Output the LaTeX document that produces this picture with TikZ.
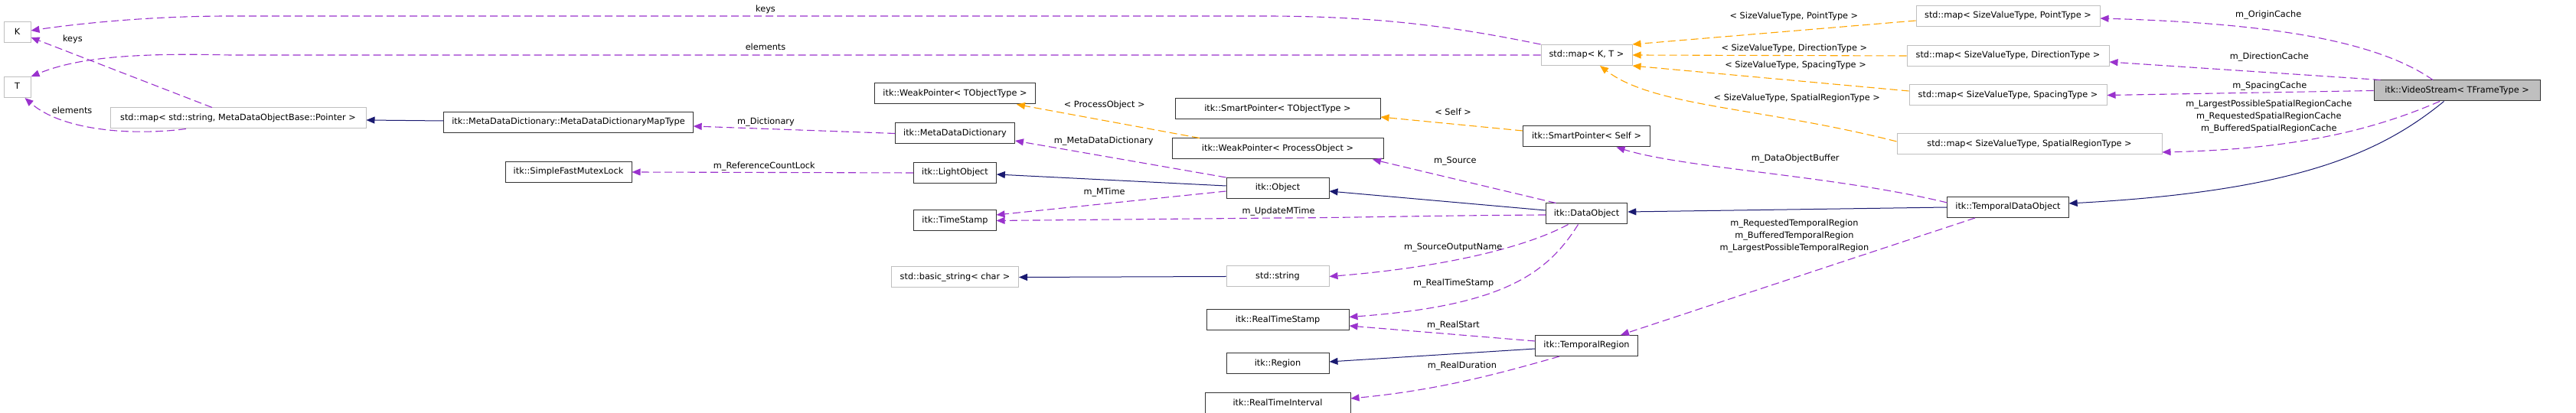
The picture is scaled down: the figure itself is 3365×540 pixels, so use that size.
\documentclass[tikz,border=0pt]{standalone}
\usepackage{fontspec}
\setmainfont{DejaVu Sans}
\usepackage{tikz}
\usetikzlibrary{arrows.meta,positioning}

\definecolor{dxpurple}{HTML}{9A32CD}
\definecolor{dxblue}{HTML}{191970}
\definecolor{dxorange}{HTML}{FFA500}
\definecolor{dxgrey}{HTML}{BFBFBF}
\newcommand{\dxfont}{\fontsize{11.3}{13}\selectfont}

\begin{document}
\begin{tikzpicture}[
  x=1pt, y=1pt,
  >={Triangle[length=11pt,width=9pt]},
  cls/.style={rectangle,draw=black!80,line width=1pt,fill=white,
    minimum height=27pt,inner xsep=10.5pt,inner ysep=0pt,
    text height=8.5pt,text depth=2.6pt,font=\dxfont},
  ext/.style={cls,draw=dxgrey},
  root/.style={cls,fill=dxgrey},
  usage/.style={draw=dxpurple,line width=1.1pt,dash pattern=on 10pt off 5pt,->},
  tmpl/.style={usage,draw=dxorange},
  inherit/.style={draw=dxblue,line width=1pt,->},
  lbl/.style={font=\dxfont,inner sep=1pt,text height=8.5pt,text depth=2.6pt},
  lbls/.style={font={\fontsize{11.3}{16}\selectfont},inner sep=1pt,align=center}
]
\useasboundingbox (0,0) rectangle (3365,540);

% template parameters and std containers
\node[ext,minimum width=35pt] (K) at (22.5,497.5) {K};
\node[ext,minimum width=35pt] (T) [below=43.5pt of K] {T};
\node[ext,minimum width=334pt] (mapstr) at (311,385.5) {std::map< std::string, MetaDataObjectBase::Pointer >};
\node[cls,minimum width=325pt] (mddmt) at (742.5,380) {itk::MetaDataDictionary::MetaDataDictionaryMapType};
\node[cls,minimum width=165pt] (mutex) [below=37pt of mddmt] {itk::SimpleFastMutexLock};

% itk base column
\node[cls,minimum width=207pt] (weakT) at (1247.5,417.5) {itk::WeakPointer< TObjectType >};
\node[cls,minimum width=156pt] (mdd) [below=24pt of weakT] {itk::MetaDataDictionary};
\node[cls,minimum width=106pt] (light) [below=23.5pt of mdd] {itk::LightObject};
\node[cls,minimum width=107pt] (tstamp) [below=34.5pt of light] {itk::TimeStamp};
\node[ext,minimum width=166pt] (bstr) [below=46pt of tstamp] {std::basic\_string< char >};

\node[cls,minimum width=268pt] (smartT) at (1669,397.5) {itk::SmartPointer< TObjectType >};
\node[cls,minimum width=276pt] (weakPO) [below=24pt of smartT] {itk::WeakPointer< ProcessObject >};
\node[cls,minimum width=134pt] (object) [below=23.5pt of weakPO] {itk::Object};
\node[ext,minimum width=134pt] (str) [below=87.5pt of object] {std::string};
\node[cls,minimum width=186pt] (rts) [below=29pt of str] {itk::RealTimeStamp};
\node[cls,minimum width=134pt] (region) [below=29pt of rts] {itk::Region};
\node[cls,minimum width=190pt] (rti) [below=24pt of region] {itk::RealTimeInterval};

\node[ext,minimum width=119pt] (mapKT) at (2072.5,468) {std::map< K, T >};
\node[cls,minimum width=166pt] (smartS) [below=78.5pt of mapKT] {itk::SmartPointer< Self >};
\node[cls,minimum width=106pt] (dataobj) [below=73pt of smartS] {itk::DataObject};
\node[cls,minimum width=131pt] (treg) [below=144.5pt of dataobj] {itk::TemporalRegion};

% caches of the video stream
\node[ext,minimum width=240pt] (mapPt) at (2623,519) {std::map< SizeValueType, PointType >};
\node[ext,minimum width=264pt] (mapDir) [below=24pt of mapPt] {std::map< SizeValueType, DirectionType >};
\node[ext,minimum width=258pt] (mapSp) [below=23.5pt of mapDir] {std::map< SizeValueType, SpacingType >};
\node[ext,minimum width=346pt] (mapSR) [below=36pt of mapSp, xshift=28pt] {std::map< SizeValueType, SpatialRegionType >};
\node[cls,minimum width=158pt] (tdo) [below=118.5pt of mapSp] {itk::TemporalDataObject};
\node[root,minimum width=217pt] (vs) at (3209.5,421.5) {itk::VideoStream< TFrameType >};

% inheritance
\draw ([yshift=2]mddmt.west) edge[inherit] ([yshift=-2.5]mapstr.east);
\draw ([yshift=3]object.west) edge[inherit] ([yshift=-2]light.east);
\draw (str.west) edge[inherit] (bstr.east);
\draw ([yshift=4.5]dataobj.west) edge[inherit] ([yshift=-4]object.east);
\draw ([yshift=-4]treg.west) edge[inherit] ([yshift=2.5]region.east);
\draw (tdo.west) edge[inherit] ([yshift=2.5]dataobj.east);
\draw[inherit] ([xshift=-17]vs.south) .. controls (3110,340) and (3000,290) .. ([yshift=5]tdo.east);

% template instances
\draw ([yshift=-6]mapPt.west) edge[tmpl] node[lbl,pos=.43,yshift=19] {< SizeValueType, PointType >} (mapKT.north east);
\draw (mapDir.west) edge[tmpl] node[lbl,pos=.41,yshift=9] {< SizeValueType, DirectionType >} (mapKT.east);
\draw ([yshift=5.5]mapSp.west) edge[tmpl] node[lbl,pos=.41,yshift=20] {< SizeValueType, SpacingType >} (mapKT.south east);
\draw[tmpl] ([yshift=3.5]mapSR.west) .. controls (2300,400) and (2160,400) .. ([xshift=17.5]mapKT.south)
  node[lbl,pos=.26,yshift=29] {< SizeValueType, SpatialRegionType >};
\draw ([xshift=-102]weakPO.north) edge[tmpl] node[lbl,pos=.52,yshift=20] {< ProcessObject >} ([xshift=80.5]weakT.south);
\draw ([yshift=7.5]smartS.west) edge[tmpl] node[lbl,pos=.49,yshift=15] {< Self >} ([yshift=-10.5]smartT.east);

% members
\draw[usage] (mapKT.north west) .. controls (1900,505) and (1800,519) .. (1650,519)
  -- (1000,519) node[lbl,yshift=8] {keys}
  -- (300,519) .. controls (180,519) and (80,506) .. ([yshift=2.5]K.east);
\draw ([xshift=-34]mapstr.north) edge[usage] node[lbl,pos=.77,yshift=18] {keys} ([yshift=-6.5]K.east);
\draw[usage] (mapKT.west) -- (1000,468) node[lbl,yshift=9] {elements}
  -- (300,468) .. controls (150,472) and (90,460) .. (T.north east);
\draw[usage] ([xshift=-68]mapstr.south) .. controls (170,362) and (80,370) .. ([xshift=10]T.south)
  node[lbl,pos=.7,xshift=9,yshift=12] {elements};
\draw (mdd.west) edge[usage] node[lbl,pos=.64,yshift=9] {m\_Dictionary} ([yshift=-5]mddmt.east);
\draw (light.west) edge[usage] node[lbl,pos=.53,yshift=8] {m\_ReferenceCountLock} (mutex.east);
\draw (object.north west) edge[usage] node[lbl,pos=.58,yshift=20] {m\_MetaDataDictionary} ([yshift=-9.5]mdd.east);
\draw ([yshift=-4]object.west) edge[usage] node[lbl,pos=.53,yshift=15] {m\_MTime} ([yshift=7.5]tstamp.east);
\draw[usage] ([yshift=-1.5]dataobj.west) .. controls (1850,258) and (1750,255) .. (1670,255)
  node[lbl,yshift=8] {m\_UpdateMTime} -- (tstamp.east);
\draw ([xshift=-40]dataobj.north) edge[usage] node[lbl,pos=.55,yshift=24] {m\_Source} ([xshift=124]weakPO.south);
\draw[usage] ([xshift=-24]dataobj.south) .. controls (1990,215) and (1880,190) .. (str.east)
  node[lbl,pos=.58,yshift=17] {m\_SourceOutputName};
\draw[usage] ([xshift=-11]dataobj.south) .. controls (2020,180) and (1960,140) .. ([yshift=4]rts.east)
  node[lbl,pos=.72,yshift=26] {m\_RealTimeStamp};
\draw ([yshift=6]treg.west) edge[usage] node[lbl,pos=.44,yshift=12] {m\_RealStart} ([yshift=-7.5]rts.east);
\draw[usage] ([xshift=-35.5]treg.south) .. controls (1960,52) and (1880,30) .. ([yshift=6.5]rti.east)
  node[lbl,pos=.52,yshift=20] {m\_RealDuration};
\draw[usage] ([yshift=6]tdo.west) .. controls (2400,310) and (2200,320) .. ([xshift=39]smartS.south)
  node[lbl,pos=.42,yshift=23] {m\_DataObjectBuffer};
\draw ([xshift=-43]tdo.south) edge[usage] node[lbls,pos=.51,yshift=54] {m\_RequestedTemporalRegion\\m\_BufferedTemporalRegion\\m\_LargestPossibleTemporalRegion} ([xshift=44.5]treg.north);
\draw[usage] ([xshift=-31.5]vs.north) .. controls (3100,490) and (2950,510) .. ([yshift=-3]mapPt.east)
  node[lbl,pos=.6,yshift=20] {m\_OriginCache};
\draw ([xshift=9]vs.north west) edge[usage] node[lbl,pos=.41,yshift=20] {m\_DirectionCache} ([yshift=-8]mapDir.east);
\draw (vs.west) edge[usage] node[lbl,pos=.39,yshift=8] {m\_SpacingCache} (mapSp.east);
\draw[usage] ([xshift=-22.5]vs.south) .. controls (3100,370) and (3000,345) .. ([yshift=-10.5]mapSR.east)
  node[lbls,pos=.7,yshift=37] {m\_LargestPossibleSpatialRegionCache\\m\_RequestedSpatialRegionCache\\m\_BufferedSpatialRegionCache};
\end{tikzpicture}
\end{document}
